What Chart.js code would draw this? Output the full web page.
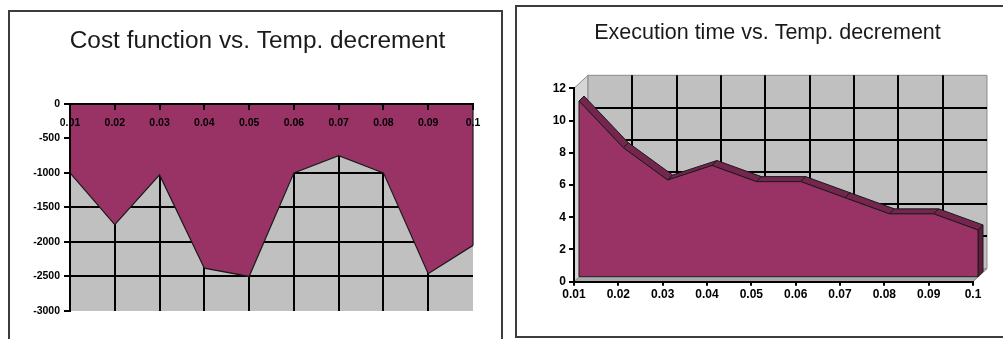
<!DOCTYPE html>
<html>
<head>
<meta charset="utf-8">
<script src="https://cdn.jsdelivr.net/npm/chart.js@4/dist/chart.umd.min.js"></script>
<style>
  html, body { margin: 0; padding: 0; background: #fff; overflow: hidden; width: 1003px; height: 339px; }
  .frame { position: absolute; border: 2px solid #3c3c3c; box-sizing: border-box; }
  #f1 { left: 8px; top: 10px; width: 495px; height: 400px; }
  #f2 { left: 515px; top: 5px; width: 600px; height: 333px; }
  .box { position: absolute; }
  #b1 { left: 10px; top: 12px; width: 490px; height: 327px; }
  #b2 { left: 517px; top: 7px; width: 486px; height: 329px; }
</style>
</head>
<body>
<div class="frame" id="f1"></div>
<div class="frame" id="f2"></div>
<div class="box" id="b1"><canvas id="costChart"></canvas></div>
<div class="box" id="b2"><canvas id="timeChart"></canvas></div>
<script>
// Temperature decrement steps (shared category axis)
const categories = ['0.01', '0.02', '0.03', '0.04', '0.05', '0.06', '0.07', '0.08', '0.09', '0.1'];

// Final cost function value for each decrement
const costValues = [-1000, -1750, -1030, -2380, -2500, -1000, -750, -1000, -2460, -2050];

// Execution time for each decrement
const timeValues = [10.9, 8.0, 6.0, 6.9, 5.9, 5.9, 4.9, 3.9, 3.9, 2.9];

// Value-axis ranges
const costRange = { min: -3000, max: 0, step: 500 };
const timeRange = { min: 0, max: 12, step: 2 };

const FONT = "'Liberation Sans', Arial, sans-serif";
const MAROON = '#993366';
const ROOF = '#74264e';
const SIDE = '#5e1d3f';
const PLOT_GREY = '#c0c0c0';

Chart.defaults.font.family = FONT;
Chart.defaults.color = '#000';

// empty right-hand gutter so the title centres over the whole frame
const gutter = w => ({
  position: 'right',
  display: true,
  grid: { display: false },
  border: { display: false },
  ticks: { display: false },
  afterFit: s => { s.width = w; }
});

/* ---------- Cost function chart (flat area, filled from 0 downwards) ---------- */
const plotBackground = {
  id: 'plotBackground',
  beforeDraw(chart) {
    const { ctx, chartArea: a } = chart;
    ctx.save();
    ctx.fillStyle = PLOT_GREY;
    ctx.fillRect(a.left, a.top, a.right - a.left, a.bottom - a.top);
    ctx.restore();
  },
  afterDatasetsDraw(chart) {
    // close the area outline on its right-hand side
    const { ctx, scales: { y } } = chart;
    const pts = chart.getDatasetMeta(0).data;
    const last = pts[pts.length - 1];
    ctx.save();
    ctx.strokeStyle = '#1a1a1a';
    ctx.lineWidth = 1.2;
    ctx.beginPath();
    ctx.moveTo(last.x, last.y);
    ctx.lineTo(last.x, y.getPixelForValue(0));
    ctx.stroke();
    ctx.restore();
  }
};

new Chart(document.getElementById('costChart'), {
  type: 'line',
  data: {
    labels: categories,
    datasets: [{
      data: costValues,
      fill: 'origin',
      backgroundColor: MAROON,
      borderColor: '#1a1a1a',
      borderWidth: 1.2,
      pointRadius: 0,
      tension: 0,
      clip: false
    }]
  },
  options: {
    responsive: true,
    maintainAspectRatio: false,
    animation: false,
    events: [],
    layout: { padding: { left: 23, right: 18, top: 0, bottom: 28 } },
    plugins: {
      legend: { display: false },
      tooltip: { enabled: false },
      title: {
        display: true,
        text: 'Cost function vs. Temp. decrement',
        color: '#1a1a1a',
        font: { family: FONT, size: 24.4, weight: 'normal' },
        padding: { top: 15.1, bottom: 47.4 }
      }
    },
    scales: {
      x: {
        type: 'category',
        position: 'bottom',
        offset: false,
        ticks: { display: false },
        border: { display: false },
        grid: {
          drawTicks: false,
          lineWidth: 2,
          color: c => (c.index === categories.length - 1 ? 'rgba(0,0,0,0)' : '#000')
        },
        afterFit: s => { s.height = 0; }
      },
      x2: {
        type: 'category',
        labels: categories,
        position: { y: 0 },
        offset: false,
        border: { display: true, color: '#000', width: 2, z: 1 },
        grid: { drawOnChartArea: false, drawTicks: true, tickLength: 5, color: '#000', lineWidth: 2, z: 1 },
        ticks: {
          z: 1, autoSkip: false, maxRotation: 0, padding: 8, color: '#000',
          font: { family: FONT, size: 10.5, weight: 'bold' }
        },
        afterFit: s => { s.height = 0; }
      },
      y: {
        min: costRange.min,
        max: costRange.max,
        border: { display: true, color: '#000', width: 2, z: 1 },
        grid: {
          lineWidth: 2,
          tickLength: 6,
          tickColor: '#000',
          color: c => (c.tick && c.tick.value === costRange.min ? 'rgba(0,0,0,0)' : '#000')
        },
        ticks: {
          stepSize: costRange.step,
          padding: 4,
          color: '#000',
          font: { family: FONT, size: 10.5, weight: 'bold' },
          callback: v => String(v)
        },
        afterFit: s => { s.width = 37; }
      },
      yGutter: gutter(9)
    }
  },
  plugins: [plotBackground]
});

/* ---------- Execution time chart (3-D area) ---------- */
const WALL = { dx: 14, dy: 13 };   // depth of the back wall
const FRONT = 5;                   // front face of the series
const BACK = 10;                   // rear edge of the series

function poly(ctx, pts, fill, stroke, lw) {
  ctx.beginPath();
  ctx.moveTo(pts[0][0], pts[0][1]);
  for (let i = 1; i < pts.length; i++) ctx.lineTo(pts[i][0], pts[i][1]);
  ctx.closePath();
  if (fill) { ctx.fillStyle = fill; ctx.fill(); }
  if (stroke) { ctx.strokeStyle = stroke; ctx.lineWidth = lw || 1; ctx.stroke(); }
}

const box3d = {
  id: 'box3d',
  beforeDraw(chart) {
    const { ctx, chartArea: { left: L, right: R, top: T, bottom: B }, scales: { x, y } } = chart;
    const { dx, dy } = WALL;
    ctx.save();
    // side wall
    poly(ctx, [[L, T], [L + dx, T - dy], [L + dx, B - dy], [L, B]], '#d6d6d6', '#8a8a8a', 1);
    // floor
    poly(ctx, [[L, B], [L + dx, B - dy], [R + dx, B - dy], [R, B]], '#a9a9a9', '#8a8a8a', 1);
    // back wall
    poly(ctx, [[L + dx, T - dy], [R + dx, T - dy], [R + dx, B - dy], [L + dx, B - dy]], PLOT_GREY, '#8a8a8a', 1);
    // back wall gridlines
    ctx.strokeStyle = '#000';
    ctx.lineWidth = 2;
    ctx.beginPath();
    for (let v = timeRange.min + timeRange.step; v < timeRange.max; v += timeRange.step) {
      const py = Math.round(y.getPixelForValue(v) - dy);
      ctx.moveTo(L + dx, py);
      ctx.lineTo(R + dx, py);
    }
    for (let i = 1; i < categories.length - 1; i++) {
      const px = Math.round(x.getPixelForValue(i) + dx);
      ctx.moveTo(px, T - dy);
      ctx.lineTo(px, B - dy);
    }
    ctx.stroke();
    ctx.restore();
  },
  beforeDatasetsDraw(chart) {
    const { ctx, scales: { y } } = chart;
    const pts = chart.getDatasetMeta(0).data;
    const base = y.getPixelForValue(0);
    ctx.save();
    // roof of the area, segment by segment
    for (let i = 0; i < pts.length - 1; i++) {
      const a = pts[i], b = pts[i + 1];
      poly(ctx, [
        [a.x + FRONT, a.y - FRONT], [b.x + FRONT, b.y - FRONT],
        [b.x + BACK, b.y - BACK], [a.x + BACK, a.y - BACK]
      ], ROOF, '#1a1a1a', 1);
    }
    // right-hand end face
    const e = pts[pts.length - 1];
    poly(ctx, [
      [e.x + FRONT, e.y - FRONT], [e.x + BACK, e.y - BACK],
      [e.x + BACK, base - BACK], [e.x + FRONT, base - FRONT]
    ], SIDE, '#1a1a1a', 1);
    ctx.restore();
    // series front face sits a little behind the front plane
    ctx.save();
    ctx.translate(FRONT, -FRONT);
  },
  afterDatasetsDraw(chart) {
    const { ctx, scales: { y } } = chart;
    const pts = chart.getDatasetMeta(0).data;
    const base = y.getPixelForValue(0);
    const f = pts[0], e = pts[pts.length - 1];
    ctx.strokeStyle = '#1a1a1a';
    ctx.lineWidth = 1;
    ctx.beginPath();
    ctx.moveTo(e.x, e.y);
    ctx.lineTo(e.x, base);
    ctx.lineTo(f.x, base);
    ctx.lineTo(f.x, f.y);
    ctx.stroke();
    ctx.restore();
  }
};

new Chart(document.getElementById('timeChart'), {
  type: 'line',
  data: {
    labels: categories,
    datasets: [{
      data: timeValues,
      fill: 'origin',
      backgroundColor: MAROON,
      borderColor: '#1a1a1a',
      borderWidth: 1,
      pointRadius: 0,
      tension: 0,
      clip: false
    }]
  },
  options: {
    responsive: true,
    maintainAspectRatio: false,
    animation: false,
    events: [],
    layout: { padding: { left: 35, right: 20, top: 0, bottom: 0 } },
    plugins: {
      legend: { display: false },
      tooltip: { enabled: false },
      title: {
        display: true,
        text: 'Execution time vs. Temp. decrement',
        color: '#1a1a1a',
        font: { family: FONT, size: 21.5, weight: 'normal' },
        padding: { top: 13.1, bottom: 42.4 }
      }
    },
    scales: {
      x: {
        type: 'category',
        position: 'bottom',
        offset: false,
        border: { display: true, color: '#000', width: 2 },
        grid: { drawOnChartArea: false, drawTicks: true, tickLength: 4, color: '#000', lineWidth: 2 },
        ticks: {
          autoSkip: false, maxRotation: 0, padding: 2, color: '#000',
          font: { family: FONT, size: 12, weight: 'bold' }
        },
        afterFit: s => { s.height = 54.3; }
      },
      y: {
        min: timeRange.min,
        max: timeRange.max,
        border: { display: true, color: '#000', width: 2 },
        grid: { drawOnChartArea: false, drawTicks: true, tickLength: 5, color: '#000', lineWidth: 2 },
        ticks: {
          stepSize: timeRange.step,
          padding: 3,
          color: '#000',
          font: { family: FONT, size: 12, weight: 'bold' }
        },
        afterFit: s => { s.width = 22; }
      },
      yGutter: gutter(10)
    }
  },
  plugins: [box3d]
});
</script>
</body>
</html>
